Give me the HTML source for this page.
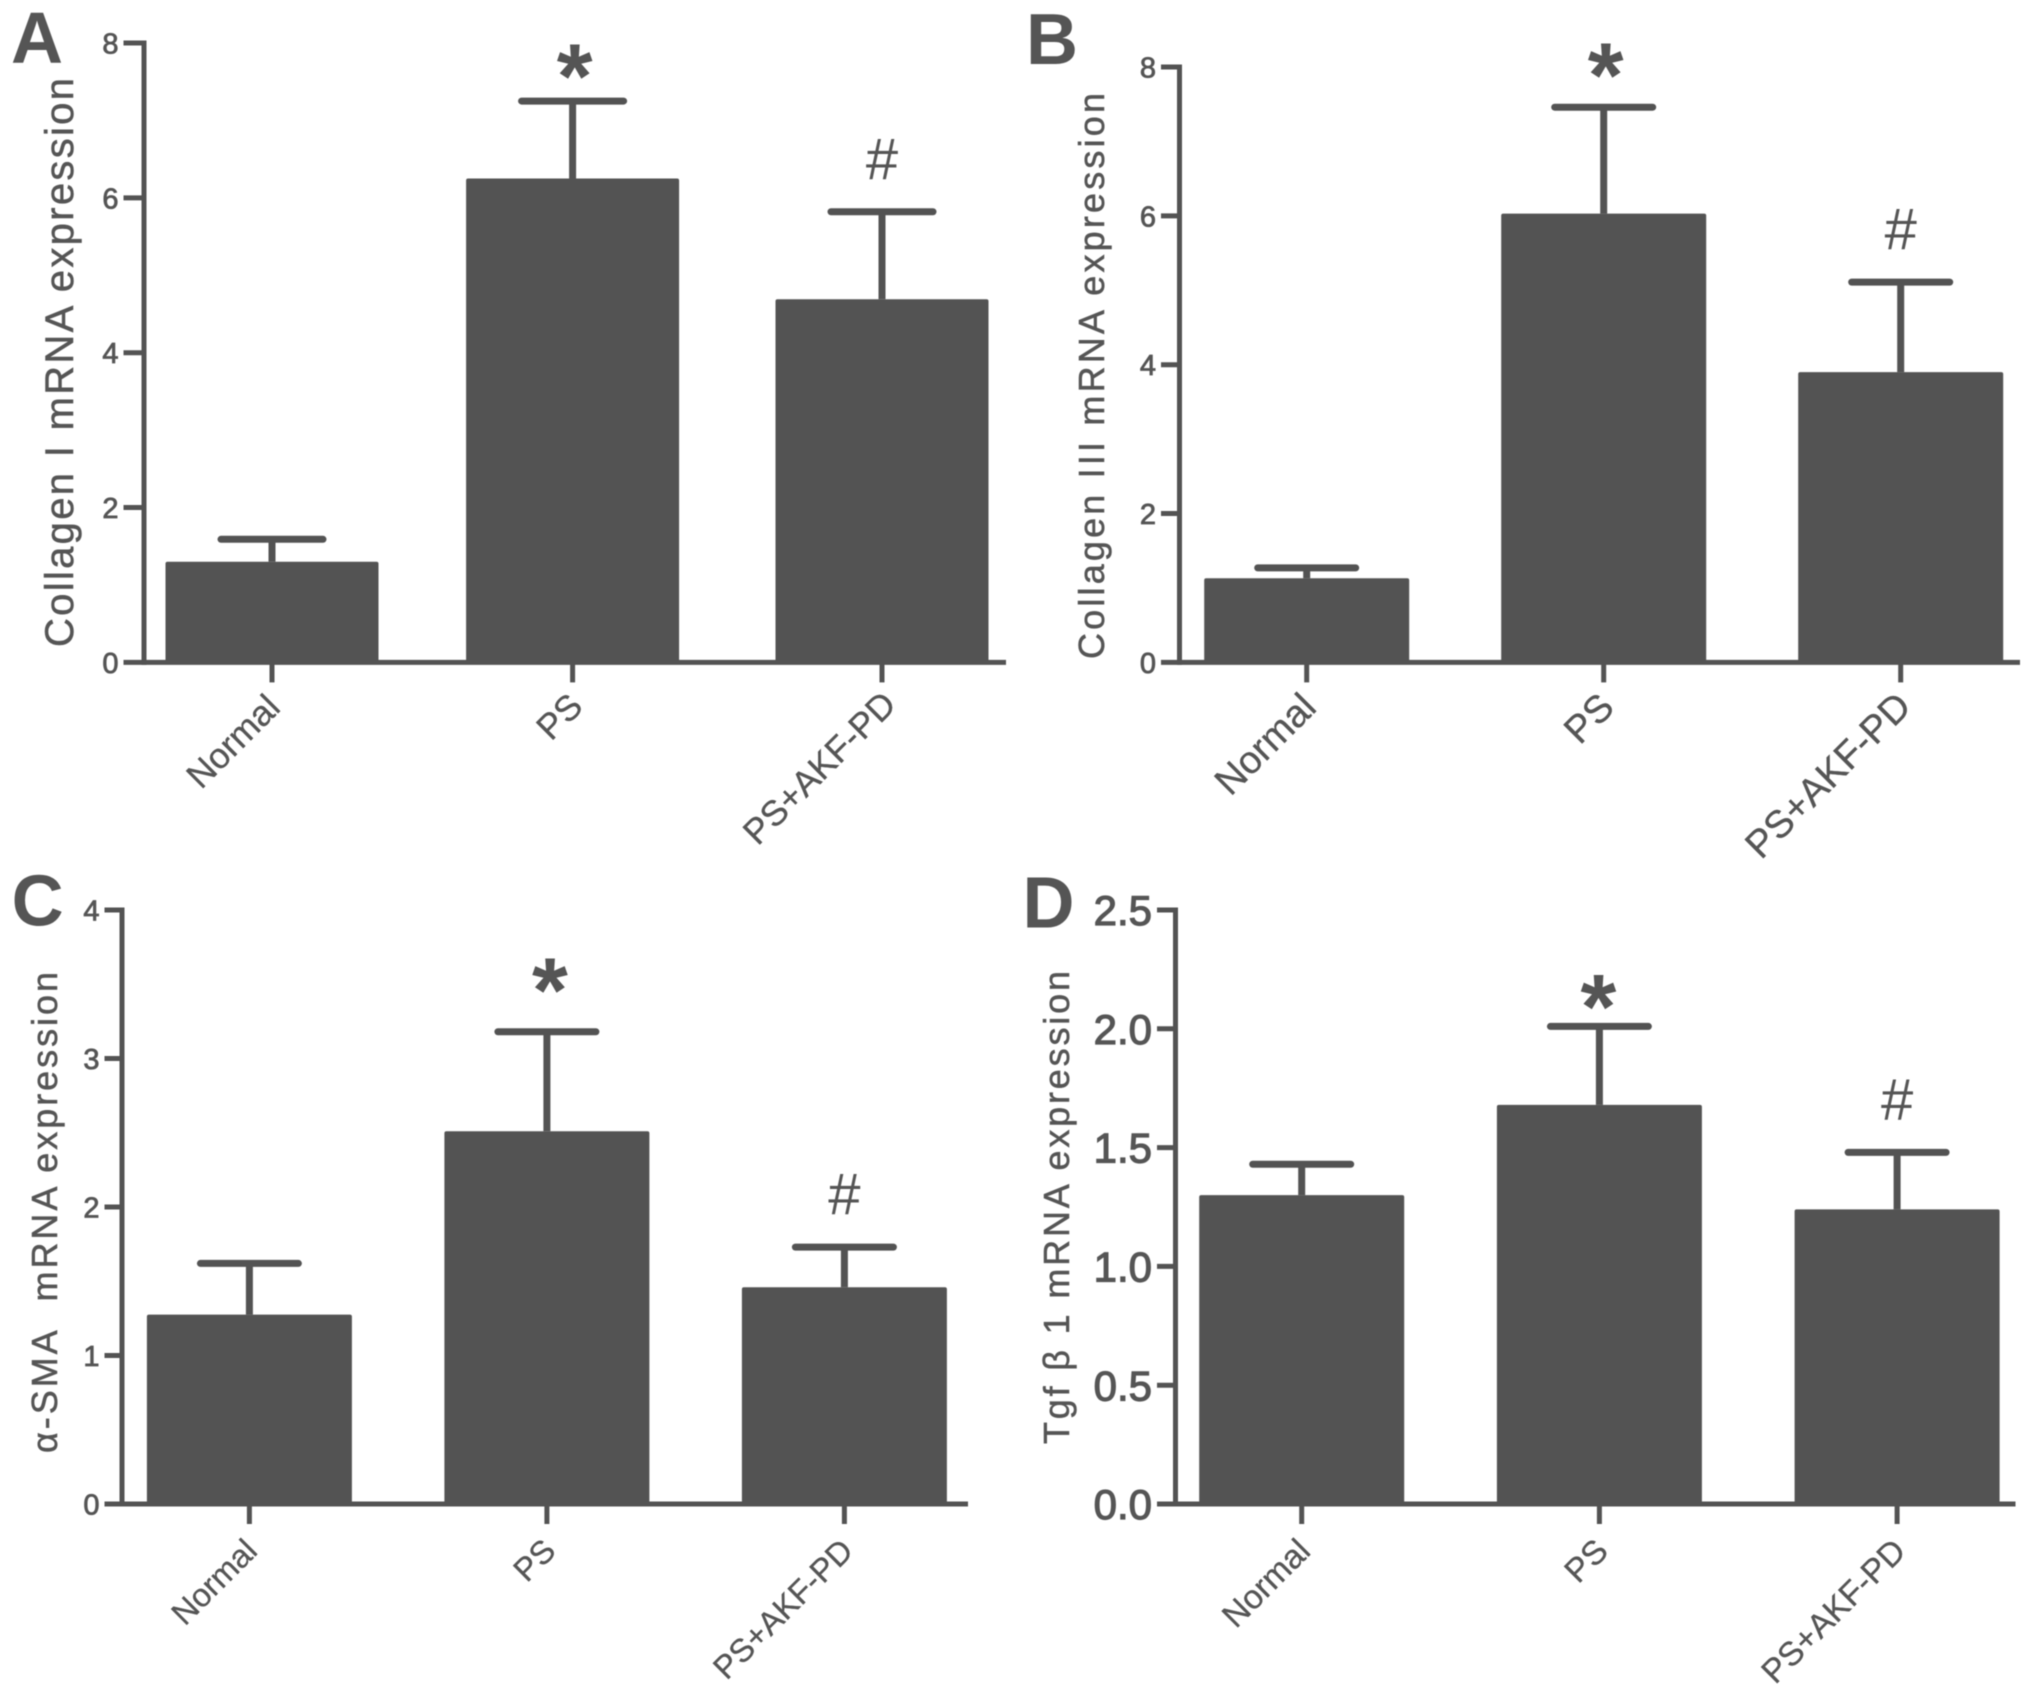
<!DOCTYPE html>
<html>
<head>
<meta charset="utf-8">
<title>Collagen I, Collagen III, α-SMA and Tgf β 1 mRNA expression</title>
<style>
html,body{margin:0;padding:0;background:#fff;}
svg{display:block;filter:blur(0.5px);}
text{font-family:"Liberation Sans",sans-serif;fill:#555;}
</style>
</head>
<body>
<svg id="figure" xmlns="http://www.w3.org/2000/svg" width="2031" height="1690" viewBox="0 0 2031 1690"></svg>
<script>
const categories = ["Normal", "PS", "PS+AKF-PD"];

const panelATicks = ["0", "2", "4", "6", "8"];
const panelAValues = [1.30, 6.25, 4.69];
const panelAErrorTops = [1.59, 7.25, 5.82];

const panelBTicks = ["0", "2", "4", "6", "8"];
const panelBValues = [1.13, 6.03, 3.90];
const panelBErrorTops = [1.27, 7.46, 5.11];

const panelCTicks = ["0", "1", "2", "3", "4"];
const panelCValues = [1.275, 2.51, 1.46];
const panelCErrorTops = [1.62, 3.18, 1.73];

const panelDTicks = ["0.0", "0.5", "1.0", "1.5", "2.0", "2.5"];
const panelDValues = [1.30, 1.68, 1.24];
const panelDErrorTops = [1.43, 2.01, 1.48];

const COLOR = "#535353";
const NS = "http://www.w3.org/2000/svg";
const root = document.getElementById("figure");

function make(parent, tag, attrs, txt) {
  const el = document.createElementNS(NS, tag);
  for (const k in attrs) el.setAttribute(k, attrs[k]);
  if (txt !== undefined) el.textContent = txt;
  parent.appendChild(el);
  return el;
}

function drawPanel(p) {
  const g = make(root, "g", {});
  
  

  const maxTick = Math.max.apply(null, p.ticks.map(Number));
  const y = function (v) { return p.yBottom - (v / maxTick) * (p.yBottom - p.yTop); };
  const x = function (i) { return p.firstCenter + i * p.step + p.nudge[i]; };

  const letter = make(g, "text", {x: p.letterX, y: p.letterY, "font-size": 72, "font-weight": "bold"}, p.id);
  
  

  const yTitle = make(g, "text", {
    transform: "translate(" + p.titleX + "," + p.titleBottom + ") rotate(-90)",
    "font-size": p.titleSize, textLength: p.titleLength, lengthAdjust: "spacing",
    stroke: "#555", "stroke-width": 0.5
  }, p.title);
  
  

  p.values.forEach(function (v, i) {
    const bar = make(g, "rect", {
      x: x(i) - p.barWidth / 2, y: y(v), width: p.barWidth, height: y(0) - y(v), rx: 2, fill: COLOR
    });
    
    

    const stem = make(g, "line", {
      x1: x(i), x2: x(i), y1: y(v), y2: y(p.errorTops[i]), stroke: COLOR, "stroke-width": 7
    });
    
    

    const cap = make(g, "line", {
      x1: x(i) - p.capWidth / 2, x2: x(i) + p.capWidth / 2, y1: y(p.errorTops[i]), y2: y(p.errorTops[i]),
      stroke: COLOR, "stroke-width": 7, "stroke-linecap": "round"
    });
    
    
  });

  const yAxis = make(g, "line", {
    x1: p.axisX, x2: p.axisX, y1: y(maxTick) - 2.5, y2: y(0) + 2.5, stroke: COLOR, "stroke-width": 5
  });
  
  

  const xAxis = make(g, "line", {
    x1: p.tickLeft, x2: p.axisEnd, y1: y(0), y2: y(0), stroke: COLOR, "stroke-width": 5
  });
  
  

  p.ticks.forEach(function (t) {
    const v = Number(t);
    if (v !== 0) {
      const tick = make(g, "line", {
        x1: p.tickLeft, x2: p.axisX, y1: y(v), y2: y(v), stroke: COLOR, "stroke-width": 5
      });
      
      
    }
    const label = make(g, "text", {
      x: p.tickLeft - 5, y: y(v) + p.tickSize * 0.36, "text-anchor": "end",
      "font-size": p.tickSize, stroke: "#555", "stroke-width": p.tickStroke
    }, t);
    
    
  });

  categories.forEach(function (c, i) {
    const tick = make(g, "line", {
      x1: x(i), x2: x(i), y1: y(0), y2: y(0) + 20, stroke: COLOR, "stroke-width": 5
    });
    
    

    const tx = x(i) + p.catDx + p.catNudgeX[i];
    const ty = y(0) + p.catDy + p.catNudgeY[i];
    const label = make(g, "text", {
      transform: "translate(" + tx + "," + ty + ") rotate(-45)",
      "text-anchor": "end", "font-size": p.catSize, stroke: "#555", "stroke-width": 0.3
    }, c);
    
    
  });

  const star = make(g, "text", {
    x: x(1) + p.starDx, y: y(p.errorTops[1]) - p.starGap + 50,
    "text-anchor": "middle", "font-size": 92, "font-weight": "bold"
  }, "*");
  
  

  const hash = make(g, "text", {
    x: x(2), y: y(p.errorTops[2]) - 52 + 19,
    "text-anchor": "middle", "font-size": 58
  }, "#");
  
  
}

drawPanel({
  id: "A", title: "Collagen I mRNA expression", ticks: panelATicks, values: panelAValues, errorTops: panelAErrorTops,
  yTop: 43, yBottom: 662.4, axisX: 144, tickLeft: 123.5, axisEnd: 1006,
  firstCenter: 272, step: 305, nudge: [0, -4.4, 0], barWidth: 213, capWidth: 102,
  letterX: 11, letterY: 62.5, titleX: 73, titleBottom: 647, titleSize: 40, titleLength: 569,
  tickSize: 29, tickStroke: 0.8, catSize: 35.5, catDx: 9, catDy: 47,
  catNudgeX: [1, 3, 7], catNudgeY: [0, -1, -3], starDx: 2, starGap: 43
});
drawPanel({
  id: "B", title: "Collagen III mRNA expression", ticks: panelBTicks, values: panelBValues, errorTops: panelBErrorTops,
  yTop: 67, yBottom: 662.4, axisX: 1179.5, tickLeft: 1161, axisEnd: 2020,
  firstCenter: 1306.7, step: 297, nudge: [0, 0, 0], barWidth: 205, capWidth: 98,
  letterX: 1026, letterY: 64, titleX: 1104, titleBottom: 659, titleSize: 36, titleLength: 566,
  tickSize: 29, tickStroke: 0.8, catSize: 38.5, catDx: 11.5, catDy: 47,
  catNudgeX: [0, 1, 1], catNudgeY: [0, 0, -1], starDx: 2, starGap: 50
});
drawPanel({
  id: "C", title: "α-SMA\u00a0 mRNA expression", ticks: panelCTicks, values: panelCValues, errorTops: panelCErrorTops,
  yTop: 910, yBottom: 1504, axisX: 122, tickLeft: 104.5, axisEnd: 968,
  firstCenter: 249.4, step: 297.5, nudge: [0, 0, 0], barWidth: 205, capWidth: 98,
  letterX: 11.6, letterY: 925.5, titleX: 57, titleBottom: 1453, titleSize: 36, titleLength: 481,
  tickSize: 29, tickStroke: 0.8, catSize: 32.5, catDx: 9.6, catDy: 48.7,
  catNudgeX: [0, 1, 1], catNudgeY: [0, 0, 0], starDx: 3, starGap: 60
});
drawPanel({
  id: "D", title: "Tgf β 1 mRNA expression", ticks: panelDTicks, values: panelDValues, errorTops: panelDErrorTops,
  yTop: 910, yBottom: 1504, axisX: 1175.5, tickLeft: 1157, axisEnd: 2015.5,
  firstCenter: 1301.7, step: 297.7, nudge: [0, 0, 0], barWidth: 205, capWidth: 98,
  letterX: 1022.5, letterY: 927.5, titleX: 1069, titleBottom: 1444, titleSize: 36, titleLength: 473,
  tickSize: 42, tickStroke: 1.2, catSize: 33.5, catDx: 10.5, catDy: 49,
  catNudgeX: [0, 0, 0], catNudgeY: [0, 0, 0], starDx: -1, starGap: 38
});
</script>
</body>
</html>
